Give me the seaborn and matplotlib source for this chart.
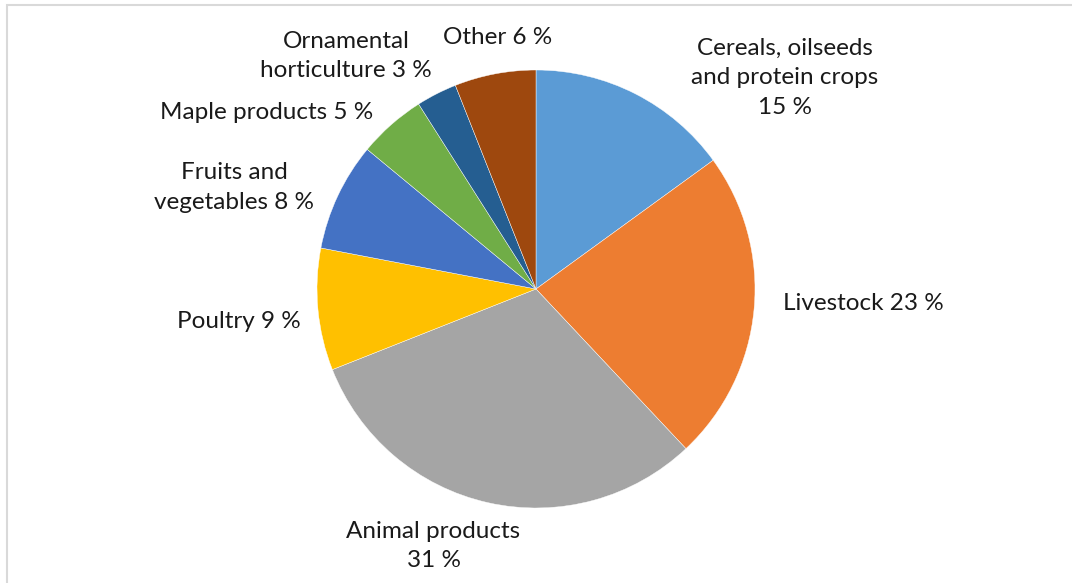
import matplotlib
matplotlib.use("Agg")
import matplotlib.pyplot as plt
import matplotlib.patches as mpatches
import seaborn as sns

# Share of farm receipts by sector
categories = [
    "Cereals, oilseeds\nand protein crops",
    "Livestock",
    "Animal products",
    "Poultry",
    "Fruits and\nvegetables",
    "Maple products",
    "Ornamental\nhorticulture",
    "Other",
]
shares = [15, 23, 31, 9, 8, 5, 3, 6]
# whether the value goes on its own line under the name
value_on_new_line = [True, False, True, False, False, False, False, False]
# label anchor points, in units of the pie radius relative to its centre
label_pos = [
    (1.136, 0.964),
    (1.495, -0.068),
    (-0.468, -1.173),
    (-1.359, -0.150),
    (-1.377, 0.464),
    (-1.232, 0.805),
    (-0.868, 1.064),
    (-0.173, 1.150),
]

colors = ["#5B9BD5", "#ED7D31", "#A5A5A5", "#FFC000",
          "#4472C4", "#70AD47", "#255E91", "#9E480E"]

sns.set_theme(style="white")
plt.rcParams["font.family"] = ["Lato", "DejaVu Sans"]
palette = sns.color_palette(colors)

W, H, DPI = 1072, 583, 100
fig = plt.figure(figsize=(W / DPI, H / DPI), dpi=DPI)
ax = fig.add_axes([0, 0, 1, 1])

ax.pie(shares, colors=palette, startangle=90, counterclock=False,
       radius=1.0, center=(0, 0),
       wedgeprops=dict(edgecolor="white", linewidth=0.3))

# map the unit-radius pie onto the figure
R_PX = 219
CX, CY = 536, 289
ax.set_xlim(-CX / R_PX, (W - CX) / R_PX)
ax.set_ylim(-(H - CY) / R_PX, CY / R_PX)
ax.set_aspect("equal")
ax.axis("off")

for name, v, newline, (lx, ly) in zip(categories, shares, value_on_new_line, label_pos):
    sep = "\n" if newline else " "
    text = f"{name}{sep}{v} %"
    ax.text(lx, ly, text, ha="center", va="center", fontsize=17.5,
            color="#1a1a1a", linespacing=1.5)

# chart area frame
frame = mpatches.Rectangle((7 / W, -0.5), 1.5, 1 - 5 / H + 0.5,
                           transform=fig.transFigure, fill=False,
                           edgecolor="#d9d9d9", linewidth=1.5)
fig.patches.append(frame)

fig.savefig("out.png", dpi=DPI, facecolor="white")
